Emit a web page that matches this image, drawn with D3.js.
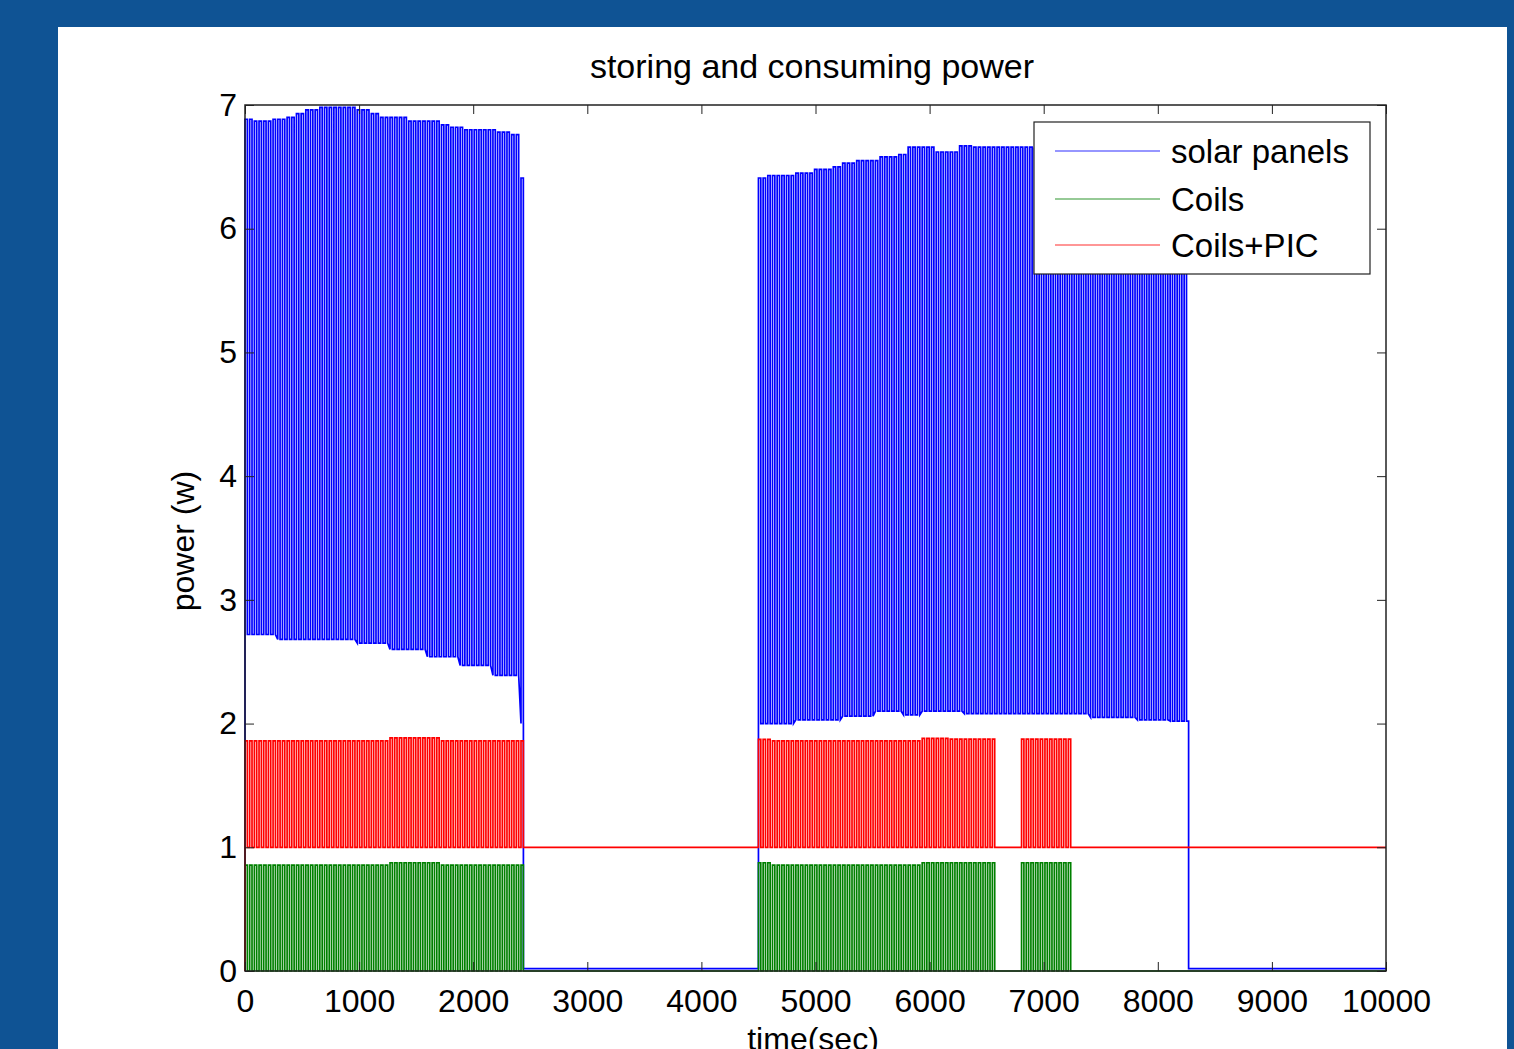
<!DOCTYPE html>
<html>
<head>
<meta charset="utf-8">
<script src="https://cdn.jsdelivr.net/npm/d3@7"></script>
<style>
  html, body { margin: 0; padding: 0; background: #0f5394; }
  svg { display: block; }
  text { font-family: "Liberation Sans", Arial, sans-serif; fill: #000; }
</style>
</head>
<body>
<div id="chart"></div>
<script>
// tick labels
const timeTicks = [0, 1000, 2000, 3000, 4000, 5000, 6000, 7000, 8000, 9000, 10000];
const powerTicks = [0, 1, 2, 3, 4, 5, 6, 7];

const seriesNames = ["solar panels", "Coils", "Coils+PIC"];
const seriesColors = ["#0000ff", "#008000", "#ff0000"];

// seconds between two pulses (stripe spacing)
const pulsePeriod = 41;

// solar panels: when it pulses, the level when idle, and stepped top / bottom of the pulses [time, power]
const solarWindows = [[0, 2440], [4500, 8270]];
const solarIdle = 0.02;
const solarTops = [
  [0, 6.885], [80, 6.87], [220, 6.885], [330, 6.9], [420, 6.93], [510, 6.96], [630, 6.98],
  [970, 6.96], [1090, 6.93], [1180, 6.9], [1420, 6.87], [1710, 6.84], [1800, 6.82],
  [1920, 6.8], [2180, 6.78], [2330, 6.76], [2415, 6.41],
  [4500, 6.41], [4560, 6.43], [4810, 6.45], [4990, 6.48], [5130, 6.5], [5210, 6.53],
  [5330, 6.55], [5530, 6.58], [5700, 6.6], [5790, 6.66], [6020, 6.62], [6250, 6.67],
  [6370, 6.66], [6900, 6.65]
];
const solarLows = [
  [0, 2.72], [260, 2.68], [980, 2.65], [1270, 2.6], [1570, 2.54], [1860, 2.47],
  [2150, 2.39], [2400, 2.0],
  [4500, 2.0], [4800, 2.03], [5200, 2.06], [5500, 2.1], [5750, 2.07], [5900, 2.1],
  [6300, 2.08], [7400, 2.05], [7800, 2.03], [8100, 2.02]
];

// coils: pulse windows shared by Coils and Coils+PIC
const coilWindows = [[0, 2440], [4500, 6600], [6806, 7265]];
const coilIdle = 0;
const coilTops = [
  [0, 0.855], [1270, 0.875], [1690, 0.855],
  [4500, 0.875], [4620, 0.855], [5900, 0.875]
];
const coilLows = [[0, 0]];

const picIdle = 1;
const picTops = [
  [0, 1.86], [1270, 1.885], [1690, 1.86],
  [4500, 1.873], [4620, 1.86], [5900, 1.88], [6180, 1.875]
];
const picLows = [[0, 1]];

function stepAt(env, t) {
  const i = d3.bisectRight(env.map(d => d[0]), t) - 1;
  return env[Math.max(i, 0)][1];
}

// square pulses between the read top and bottom levels
function pulseTrain(windows, tops, lows, idle) {
  const pts = [[0, 0]];
  windows.forEach(([a, b]) => {
    pts.push([a, idle]);
    let t = a;
    for (; t + pulsePeriod / 2 <= b; t += pulsePeriod) {
      const hi = stepAt(tops, t), lo = stepAt(lows, t);
      pts.push([t, lo], [t, hi], [t + pulsePeriod / 2, hi], [t + pulsePeriod / 2, lo]);
    }
    pts.push([b, stepAt(lows, b)], [b, idle]);
  });
  pts.push([10000, idle]);
  return pts;
}

const series = [
  pulseTrain(solarWindows, solarTops, solarLows, solarIdle),
  pulseTrain(coilWindows, coilTops, coilLows, coilIdle),
  pulseTrain(coilWindows, picTops, picLows, picIdle)
];

const width = 1514, height = 1049;
const svg = d3.select("#chart").append("svg")
  .attr("width", width)
  .attr("height", height);

svg.append("rect")
  .attr("width", width).attr("height", height)
  .attr("fill", "#0f5394");
svg.append("rect")
  .attr("x", 58).attr("y", 27)
  .attr("width", 1449).attr("height", height - 27)
  .attr("fill", "#ffffff");

const x = d3.scaleLinear().domain([0, 10000]).range([245, 1386]);
const y = d3.scaleLinear().domain([0, 7]).range([971, 105]);

const plot = svg.append("g");

const line = d3.line()
  .x(d => x(d[0]))
  .y(d => y(d[1]));

plot.selectAll("path.series")
  .data(series)
  .enter()
  .append("path")
    .attr("class", "series")
    .attr("d", line)
    .attr("fill", "none")
    .attr("stroke", (d, i) => seriesColors[i])
    .attr("stroke-width", 1.7);

// axes, ticks pointing inward like matlab
const bottomAxis = svg.append("g")
  .attr("transform", "translate(0, 971)")
  .call(d3.axisBottom(x).tickValues(timeTicks).tickSizeInner(-9).tickSizeOuter(0).tickPadding(18).tickFormat(d3.format("d")));
bottomAxis.selectAll("text").attr("font-size", "32px");

const leftAxis = svg.append("g")
  .attr("transform", "translate(245, 0)")
  .call(d3.axisLeft(y).tickValues(powerTicks).tickSizeInner(-9).tickSizeOuter(0).tickPadding(8).tickFormat(d3.format("d")));
leftAxis.selectAll("text").attr("font-size", "32px");

svg.append("g")
  .attr("transform", "translate(0, 105)")
  .call(d3.axisTop(x).tickValues(timeTicks).tickSizeInner(-9).tickSizeOuter(0).tickFormat(""));
svg.append("g")
  .attr("transform", "translate(1386, 0)")
  .call(d3.axisRight(y).tickValues(powerTicks).tickSizeInner(-9).tickSizeOuter(0).tickFormat(""));

svg.selectAll(".domain").remove();
svg.selectAll(".tick line").attr("stroke", "#222");

svg.append("rect")
  .attr("x", 245).attr("y", 105)
  .attr("width", 1386 - 245).attr("height", 971 - 105)
  .attr("fill", "none")
  .attr("stroke", "#222")
  .attr("stroke-width", 1.5);

svg.append("text")
  .attr("x", 812)
  .attr("y", 78)
  .attr("text-anchor", "middle")
  .attr("font-size", "34px")
  .text("storing and consuming power");

svg.append("text")
  .attr("transform", "translate(194, 541) rotate(-90)")
  .attr("text-anchor", "middle")
  .attr("font-size", "32px")
  .text("power (w)");

svg.append("text")
  .attr("x", 813)
  .attr("y", 1050)
  .attr("text-anchor", "middle")
  .attr("font-size", "32px")
  .text("time(sec)");

// legend
const legend = svg.append("g");
legend.append("rect")
  .attr("x", 1034).attr("y", 122)
  .attr("width", 336).attr("height", 152)
  .attr("fill", "#ffffff")
  .attr("stroke", "#222")
  .attr("stroke-width", 1.2);

const legendRows = [151, 199, 245];
seriesNames.forEach((name, i) => {
  legend.append("line")
    .attr("x1", 1055).attr("x2", 1160)
    .attr("y1", legendRows[i]).attr("y2", legendRows[i])
    .attr("stroke", seriesColors[i])
    .attr("stroke-opacity", 0.55)
    .attr("stroke-width", 1.5);
  legend.append("text")
    .attr("x", 1171)
    .attr("y", legendRows[i])
    .attr("dy", "0.35em")
    .attr("font-size", "33px")
    .text(name);
});
</script>
</body>
</html>
